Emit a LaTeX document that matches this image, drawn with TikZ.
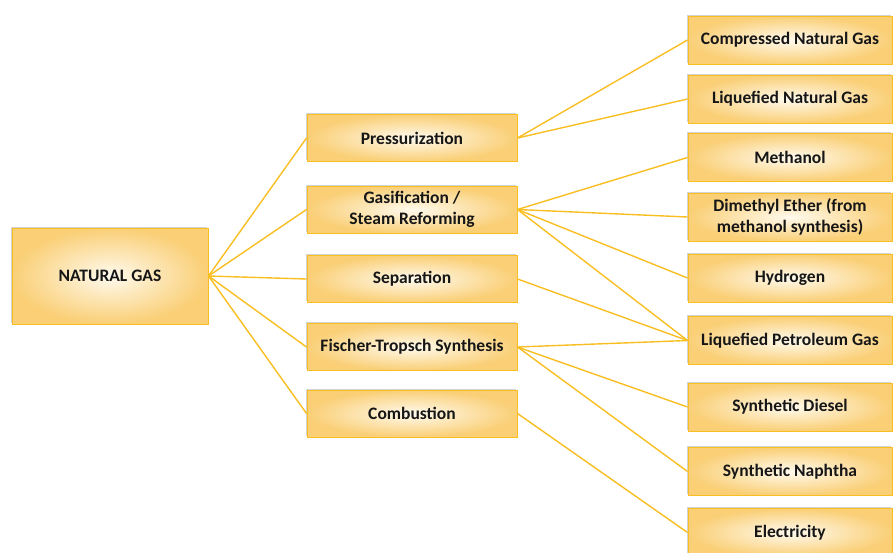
\documentclass[tikz,border=0pt]{standalone}
\usepackage{fontspec}
\setmainfont{Carlito}
\usetikzlibrary{shadows}
\definecolor{gold}{HTML}{F8BE22}
\definecolor{goldedge}{HTML}{FACF76}
\definecolor{cream}{HTML}{FFFAEE}
\definecolor{ink}{HTML}{161616}
\tikzset{box/.style={draw=gold,line width=1pt,inner color=cream,outer color=goldedge,align=center,inner sep=0pt,font=\fontsize{17.5}{21}\selectfont\bfseries,text=ink,drop shadow={shadow xshift=-1pt,shadow yshift=1.5pt,opacity=.35}},midbox/.style={box,minimum width=210pt,minimum height=47pt},endbox/.style={box,minimum width=204pt,minimum height=48pt},link/.style={gold,line width=1.4pt}}

\begin{document}
\begin{tikzpicture}[x=1pt,y=-1pt]
\useasboundingbox (0,0) rectangle (893,552);
\node[box,minimum width=196pt,minimum height=96pt] (ng) at (110,276) {NATURAL GAS};
\foreach \n/\y/\t in {press/138/Pressurization,gasif/209.5/{Gasification /\\Steam Reforming},sep/279/Separation,ft/347/Fischer-Tropsch Synthesis,comb/413.5/Combustion}{\node[midbox] (\n) at (412,\y) {\t};}
\foreach \n/\y/\t in {cng/40/Compressed Natural Gas,lng/99/Liquefied Natural Gas,meth/157.5/Methanol,dme/217/{Dimethyl Ether (from\\methanol synthesis)},h2/278/Hydrogen,lpg/340.5/Liquefied Petroleum Gas,sd/407/Synthetic Diesel,sn/471.5/Synthetic Naphtha,elec/532.5/Electricity}{\node[endbox] (\n) at (790,\y) {\t};}
\foreach \a/\b in {ng/press,ng/gasif,ng/sep,ng/ft,ng/comb,press/cng,press/lng,gasif/meth,gasif/dme,gasif/h2,gasif/lpg,sep/lpg,ft/lpg,ft/sd,ft/sn,comb/elec}{\draw[link] (\a.east) -- (\b.west);}
\end{tikzpicture}
\end{document}
